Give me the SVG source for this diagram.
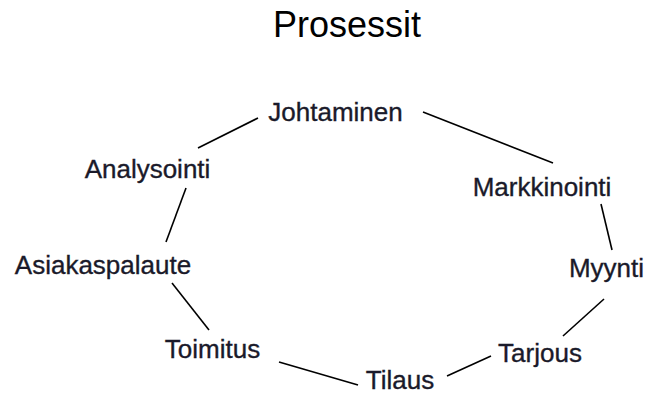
<svg xmlns="http://www.w3.org/2000/svg" width="649" height="394" viewBox="0 0 649 394">
<style>
.lbl{font-family:"Liberation Sans",Arial,sans-serif;font-size:26px;fill:#1a1a2a;stroke:#1a1a2a;stroke-width:0.35;text-anchor:middle}
.title{font-family:"Liberation Sans",Arial,sans-serif;font-size:36px;fill:#000;text-anchor:middle}
.edge{stroke:#000;stroke-width:1.6;fill:none}
</style>
<rect width="649" height="394" fill="#fff"/>
<text class="title" x="347" y="37">Prosessit</text>
<g id="connectors">
<line class="edge" x1="258" y1="118" x2="198" y2="148"/>
<line class="edge" x1="186" y1="188" x2="166" y2="242"/>
<line class="edge" x1="423" y1="112" x2="553" y2="163"/>
<line class="edge" x1="601" y1="204" x2="612" y2="250"/>
<line class="edge" x1="604" y1="299" x2="563" y2="336"/>
<line class="edge" x1="491" y1="356" x2="447" y2="376"/>
<line class="edge" x1="279" y1="362" x2="358" y2="385"/>
<line class="edge" x1="172" y1="283" x2="209" y2="330"/>
</g>
<g id="johtaminen"><text class="lbl" x="335.5" y="121">Johtaminen</text></g>
<g id="analysointi"><text class="lbl" x="147.5" y="178">Analysointi</text></g>
<g id="markkinointi"><text class="lbl" x="542" y="196">Markkinointi</text></g>
<g id="asiakaspalaute"><text class="lbl" x="103" y="274">Asiakaspalaute</text></g>
<g id="myynti"><text class="lbl" x="606.5" y="277">Myynti</text></g>
<g id="toimitus"><text class="lbl" x="212.5" y="358">Toimitus</text></g>
<g id="tarjous"><text class="lbl" x="540" y="362">Tarjous</text></g>
<g id="tilaus"><text class="lbl" x="400" y="389">Tilaus</text></g>
</svg>
